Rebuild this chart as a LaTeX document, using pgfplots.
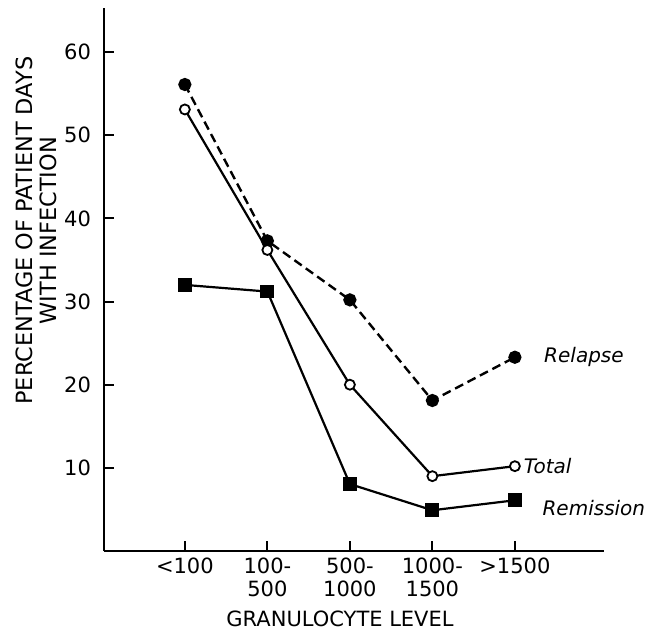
\documentclass[border=0pt]{standalone}
\usepackage{fontspec}
\setmainfont{DejaVu Sans}
\usepackage{pgfplots}
\pgfplotsset{compat=1.18}

\begin{document}
\begin{tikzpicture}
\begin{axis}[
  scale only axis,
  width=250pt, height=271.5pt,
  xmin=-0.98, xmax=5.08,
  ymin=0, ymax=65.3,
  axis x line=bottom, axis y line=left,
  axis line style={-, line width=1pt},
  tick align=inside,
  major tick length=5pt,
  tick style={line width=1pt, black},
  xtick={0,1,2,3,4},
  xticklabels={{<100},{100-\\500},{500-\\1000},{1000-\\1500},{>1500}},
  xticklabel style={align=center, font=\fontsize{10.5}{11.5}\selectfont},
  ytick={10,20,30,40,50,60},
  yticklabel style={font=\fontsize{10.5}{12}\selectfont, xshift=-3pt},
  /pgf/number format/assume math mode=true,
  xlabel={GRANULOCYTE LEVEL},
  xlabel style={font=\fontsize{10.5}{12}\selectfont, at={(ticklabel cs:0.472)}},
  ylabel={PERCENTAGE OF PATIENT DAYS\\WITH INFECTION},
  ylabel style={font=\fontsize{11.2}{11.8}\selectfont, align=center,
    at={(ticklabel cs:0.59)}, yshift=-3pt},
  clip=false,
]
% Relapse
\addplot[black, line width=1.2pt, dash pattern=on 4.5pt off 2.5pt,
  mark=*, mark size=2.7pt, mark options={solid, fill=black}]
  coordinates {(0,56.1) (1,37.3) (2,30.2) (3,18.1) (4,23.3)};
% Total
\addplot[black, line width=1.1pt,
  mark=*, mark size=2.5pt, mark options={fill=white, line width=0.9pt}]
  coordinates {(0,53.1) (1,36.2) (2,20.0) (3,9.0) (4,10.2)};
% Remission
\addplot[black, line width=1.1pt,
  mark=square*, mark size=2.9pt, mark options={fill=black}]
  coordinates {(0,32.0) (1,31.2) (2,8.05) (3,4.9) (4,6.1)};

\node[anchor=west, font=\fontsize{10}{12}\itshape] at (axis cs:4.27,23.3) {Relapse};
\node[anchor=west, font=\fontsize{10}{12}\itshape, inner sep=1pt] at (axis cs:4.08,10.2) {Total};
\node[anchor=west, font=\fontsize{10}{12}\itshape] at (axis cs:4.25,5.2) {Remission};
\end{axis}
\pgfresetboundingbox
\path (-52pt,-46pt) rectangle (271pt,275.5pt);
\end{tikzpicture}
\end{document}
